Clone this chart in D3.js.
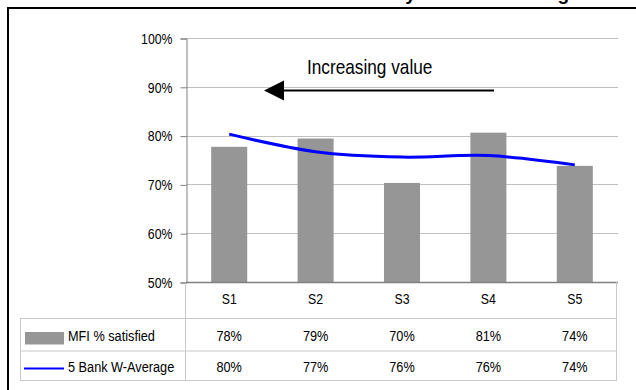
<!DOCTYPE html>
<html>
<head>
<meta charset="utf-8">
<script src="https://cdn.jsdelivr.net/npm/d3@7"></script>
<style>
  html, body { margin: 0; padding: 0; background: #fff; }
  svg { display: block; }
  text { font-family: "Liberation Sans", Arial, sans-serif; fill: #000; }
</style>
</head>
<body>
<svg id="chart" width="636" height="390"></svg>
<script>
// Service categories, ranked
const categories = ["S1", "S2", "S3", "S4", "S5"];
// Share of MFI clients satisfied
const mfiSatisfied = [0.777, 0.794, 0.703, 0.806, 0.738];
// Weighted average across five banks
const bankWAverage = [0.803, 0.767, 0.756, 0.759, 0.740];
// Y-axis ticks
const yTicks = [0.5, 0.6, 0.7, 0.8, 0.9, 1.0];
const seriesNames = ["MFI % satisfied", "5 Bank W-Average"];
const titleText = "Customer Satisfaction by Service Ranking";

const svg = d3.select("#chart");
const pct = d3.format(".0%");

// Condense a text horizontally (narrow sans look)
function narrow(sel, factor = 0.82) {
  sel.each(function () {
    const w = this.getComputedTextLength();
    d3.select(this).attr("textLength", w * factor).attr("lengthAdjust", "spacingAndGlyphs");
  });
}

const plot = { left: 186, right: 618, top: 38, bottom: 282 };
const table = { left: 20, right: 616, row1: 318, row2: 350.5, bottom: 380 };

const x = d3.scaleBand().domain(categories).range([plot.left, plot.right]).padding(0);
const y = d3.scaleLinear().domain([0.5, 1.0]).range([plot.bottom, plot.top]);
const barW = x.bandwidth() * 0.417;
const cx = d => x(d) + x.bandwidth() / 2;

// Outer frame (open at right and bottom)
svg.append("rect")
  .attr("x", 8).attr("y", 8).attr("width", 660).attr("height", 420)
  .attr("fill", "none").attr("stroke", "#000").attr("stroke-width", 2);

// Title sitting above the frame
svg.append("text")
  .attr("x", 569).attr("y", 0.2)
  .attr("text-anchor", "end")
  .style("font-weight", "bold")
  .style("font-size", "19px")
  .text(titleText);

// Gridlines
svg.append("g").selectAll("line")
  .data(yTicks.filter(t => t > 0.5))
  .join("line")
  .attr("x1", plot.left).attr("x2", plot.right)
  .attr("y1", d => Math.round(y(d)) + 0.5).attr("y2", d => Math.round(y(d)) + 0.5)
  .attr("stroke", "#c0c0c0").attr("stroke-width", 1);

// Y axis
const yAxis = d3.axisLeft(y).tickValues(yTicks).tickFormat(pct).tickSize(6).tickPadding(8);
const gy = svg.append("g")
  .attr("transform", `translate(${plot.left + 0.5},0.5)`)
  .call(yAxis);
gy.select(".domain").attr("stroke", "#808080");
gy.selectAll(".tick line").attr("stroke", "#808080");
gy.selectAll(".tick text")
  .style("font-size", "15px")
  .style("font-family", "'Liberation Sans', Arial, sans-serif")
  .attr("fill", "#000")
  .call(narrow);

// Bars
svg.append("g").selectAll("rect")
  .data(categories)
  .join("rect")
  .attr("x", d => cx(d) - barW / 2)
  .attr("width", barW)
  .attr("y", (d, i) => y(mfiSatisfied[i]))
  .attr("height", (d, i) => y(0.5) - y(mfiSatisfied[i]))
  .attr("fill", "#969696");

// X axis baseline
svg.append("line")
  .attr("x1", plot.left).attr("x2", plot.right)
  .attr("y1", plot.bottom + 0.5).attr("y2", plot.bottom + 0.5)
  .attr("stroke", "#808080").attr("stroke-width", 1.5);

// Smoothed weighted-average line
const line = d3.line()
  .x((d, i) => cx(categories[i]))
  .y(d => y(d))
  .curve(d3.curveCatmullRom.alpha(0.5));
svg.append("path")
  .datum(bankWAverage)
  .attr("d", line)
  .attr("fill", "none")
  .attr("stroke", "#0000ff")
  .attr("stroke-width", 3);

// Annotation arrow
const arrowY = 90.5;
svg.append("line")
  .attr("x1", 282).attr("x2", 494)
  .attr("y1", arrowY).attr("y2", arrowY)
  .attr("stroke", "#000").attr("stroke-width", 2);
svg.append("path")
  .attr("d", `M264,${arrowY} L284,${arrowY - 10} L284,${arrowY + 10} Z`)
  .attr("fill", "#000");
svg.append("text")
  .attr("x", 307).attr("y", 74)
  .style("font-size", "21px")
  .text("Increasing value")
  .call(narrow);

// Data table grid
const tg = svg.append("g").attr("stroke", "#c8c8c8").attr("stroke-width", 1);
[table.row1, table.row2, table.bottom].forEach(yy => {
  tg.append("line").attr("x1", table.left).attr("x2", table.right + 0.5)
    .attr("y1", yy + 0.5).attr("y2", yy + 0.5);
});
tg.append("line").attr("x1", table.left + 0.5).attr("x2", table.left + 0.5)
  .attr("y1", table.row1).attr("y2", table.bottom + 1);
tg.append("line").attr("x1", plot.left - 0.5).attr("x2", plot.left - 0.5)
  .attr("y1", plot.bottom + 1).attr("y2", table.bottom + 1);
tg.append("line").attr("x1", table.right + 0.5).attr("x2", table.right + 0.5)
  .attr("y1", plot.bottom).attr("y2", table.bottom + 1);

// Category labels
svg.append("g").selectAll("text")
  .data(categories)
  .join("text")
  .attr("x", d => cx(d))
  .attr("y", 298)
  .attr("text-anchor", "middle")
  .attr("dominant-baseline", "central")
  .style("font-size", "15px")
  .text(d => d)
  .call(narrow);

// Table values
const rows = [
  { values: mfiSatisfied, yc: 335.5 },
  { values: bankWAverage, yc: 366.5 }
];
rows.forEach(r => {
  svg.append("g").selectAll("text")
    .data(r.values)
    .join("text")
    .attr("x", (d, i) => cx(categories[i]))
    .attr("y", r.yc)
    .attr("text-anchor", "middle")
    .attr("dominant-baseline", "central")
    .style("font-size", "15.5px")
    .text(d => pct(d))
    .call(narrow);
});

// Legend keys and series names
svg.append("rect")
  .attr("x", 25).attr("y", 332).attr("width", 39).attr("height", 12.5)
  .attr("fill", "#969696");
svg.append("line")
  .attr("x1", 24).attr("x2", 64).attr("y1", 368.5).attr("y2", 368.5)
  .attr("stroke", "#0000ff").attr("stroke-width", 2);
svg.append("text").attr("x", 68).attr("y", 335.5)
  .attr("dominant-baseline", "central").style("font-size", "15.5px").text(seriesNames[0])
  .call(narrow);
svg.append("text").attr("x", 68).attr("y", 366.5)
  .attr("dominant-baseline", "central").style("font-size", "15.5px").text(seriesNames[1])
  .call(narrow);
</script>
</body>
</html>
